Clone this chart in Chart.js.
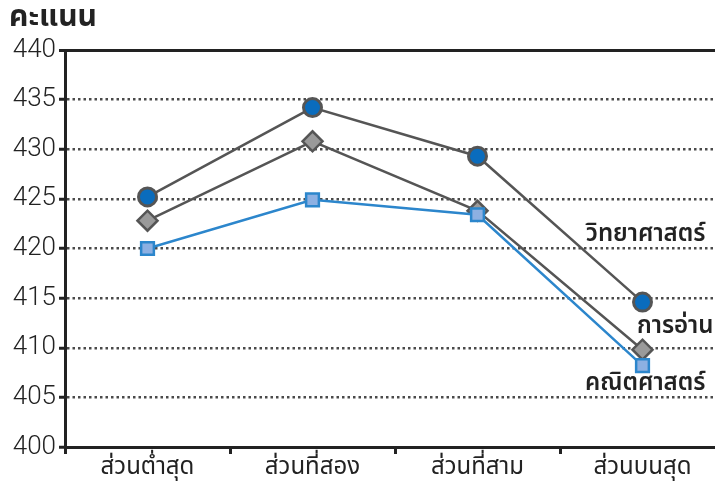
<!DOCTYPE html>
<html>
<head>
<meta charset="utf-8">
<script src="https://cdn.jsdelivr.net/npm/chart.js@4"></script>
<style>
  html, body { margin: 0; padding: 0; background: #fff; overflow: hidden; }
  #wrap { position: relative; width: 740px; height: 489px; }
  #title { position: absolute; left: 9px; top: -6px; font: bold 30px 'Noto Sans Thai', 'Noto Sans', sans-serif; color: #222; }
</style>
</head>
<body>
<div id="wrap">
  <canvas id="c" width="740" height="489"></canvas>
  <div id="title">คะแนน</div>
</div>
<script>
// Categories and scores
const categories = ['ส่วนต่ำสุด', 'ส่วนที่สอง', 'ส่วนที่สาม', 'ส่วนบนสุด'];
const scienceScores = [425.2, 434.2, 429.3, 414.6];
const readingScores = [422.8, 430.8, 423.8, 409.8];
const mathScores = [420.0, 424.9, 423.4, 408.2];
const seriesNames = ['วิทยาศาสตร์', 'การอ่าน', 'คณิตศาสตร์'];
const yTicks = [400, 405, 410, 415, 420, 425, 430, 435, 440];

const thaiFont = "'Noto Sans Thai', 'Noto Sans', sans-serif";

// Series names written beside the last point of each line
const endLabels = {
  id: 'endLabels',
  afterDatasetsDraw(chart) {
    const ctx = chart.ctx;
    const offsets = [[63, -66], [71, -22], [63, 20]];
    ctx.save();
    ctx.font = '600 24px ' + thaiFont;
    ctx.fillStyle = '#222';
    ctx.textAlign = 'right';
    ctx.textBaseline = 'middle';
    chart.data.datasets.forEach((ds, i) => {
      const pt = chart.getDatasetMeta(i).data[3];
      ctx.fillText(seriesNames[i], pt.x + offsets[i][0], pt.y + offsets[i][1]);
    });
    ctx.restore();
  }
};

new Chart(document.getElementById('c'), {
  type: 'line',
  data: {
    labels: categories,
    datasets: [
      {
        label: seriesNames[0], data: scienceScores, order: 3,
        borderColor: '#555', borderWidth: 2.5,
        pointStyle: 'circle', pointRadius: 9, pointBackgroundColor: '#0a6cbd',
        pointBorderColor: '#555', pointBorderWidth: 3
      },
      {
        label: seriesNames[1], data: readingScores, order: 2,
        borderColor: '#555', borderWidth: 2.5,
        pointStyle: 'rectRot', pointRadius: 10, pointBackgroundColor: '#9a9a9a',
        pointBorderColor: '#555', pointBorderWidth: 2.5
      },
      {
        label: seriesNames[2], data: mathScores, order: 1,
        borderColor: '#2c86cc', borderWidth: 2.5,
        pointStyle: 'rect', pointRadius: 9, pointBackgroundColor: '#8db0e2',
        pointBorderColor: '#2c86cc', pointBorderWidth: 2.5
      }
    ]
  },
  options: {
    responsive: false,
    animation: false,
    layout: { padding: { left: 0, right: 15, top: 50, bottom: 0 } },
    plugins: { legend: { display: false }, tooltip: { enabled: false } },
    scales: {
      x: {
        offset: true,
        border: { display: true, color: '#222', width: 3 },
        grid: { offset: true, drawOnChartArea: false, drawTicks: true, tickLength: 7, tickColor: '#222', tickWidth: 3 },
        ticks: { color: '#222', font: { family: thaiFont, size: 24 }, padding: 1, maxRotation: 0 },
        afterFit(s) { s.height = 42; }
      },
      y: {
        min: 400, max: 440,
        afterBuildTicks(s) { s.ticks = yTicks.map(v => ({ value: v })); },
        border: { display: true, color: '#222', width: 3, dash: ctx => (ctx.tick && ctx.tick.value === 440) ? [] : [2.5, 3] },
        grid: {
          drawTicks: true, tickLength: 6, tickColor: '#222', tickWidth: 3,
          color: ctx => ctx.tick.value === 400 ? 'rgba(0,0,0,0)' : (ctx.tick.value === 440 ? '#222' : '#4a4a4a'),
          lineWidth: ctx => ctx.tick.value === 440 ? 3 : 2.5
        },
        ticks: { color: '#222', font: { family: "Roboto, 'Liberation Sans', sans-serif", size: 26, weight: 300 }, padding: 3 },
        afterFit(s) { s.width = 65; }
      }
    }
  },
  plugins: [endLabels]
});
</script>
</body>
</html>
